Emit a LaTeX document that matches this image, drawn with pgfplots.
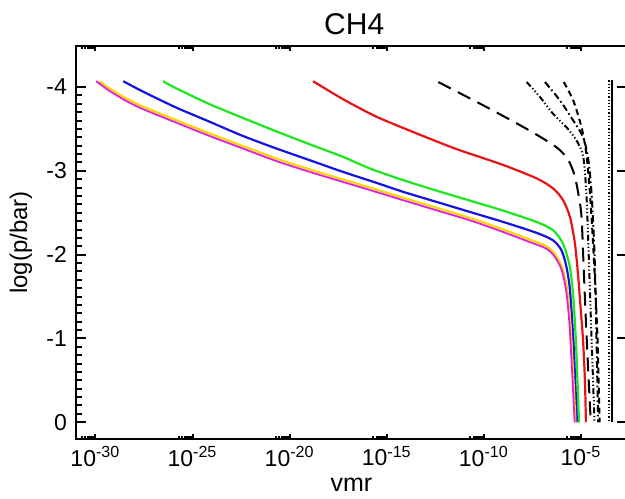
\documentclass[border=0pt]{standalone}
\usepackage{fontspec}
\setmainfont{Liberation Sans}
\usepackage{pgfplots}
\pgfplotsset{compat=1.18}

\definecolor{idlred}{RGB}{230,20,20}
\definecolor{idlgreen}{RGB}{30,230,30}
\definecolor{idlblue}{RGB}{20,20,225}
\definecolor{idlyellow}{RGB}{250,215,0}
\definecolor{idlmagenta}{RGB}{230,30,220}

\pgfplotsset{
  chbase/.style={
    scale only axis, width=275.5pt, height=196.5pt,
    xmin=1e-31, xmax=2.34e-3,
    ymin=-4.49, ymax=0.2, y dir=reverse,
    axis line style={line width=1.25pt},
    every tick/.style={line width=1pt, black},
    tick align=inside,
    tick label style={font=\fontsize{11.5}{13}\selectfont},
  },
  prof/.style={smooth, tension=0.45, line width=1.1pt},
}

\begin{document}
\begin{tikzpicture}
% main axis: curves and x ticks
\begin{axis}[xmode=log, chbase, name=ax,
  xtick={1e-30,1e-25,1e-20,1e-15,1e-10,1e-5},
  xticklabels={10\textsuperscript{-30},10\textsuperscript{-25},10\textsuperscript{-20},
    10\textsuperscript{-15},10\textsuperscript{-10},10\textsuperscript{-5}},
  minor xtick={2e-31,3e-31,4e-31,5e-31,6e-31,7e-31,8e-31,9e-31,
    2e-26,3e-26,4e-26,5e-26,6e-26,7e-26,8e-26,9e-26,
    2e-21,3e-21,4e-21,5e-21,6e-21,7e-21,8e-21,9e-21,
    2e-16,3e-16,4e-16,5e-16,6e-16,7e-16,8e-16,9e-16,
    2e-11,3e-11,4e-11,5e-11,6e-11,7e-11,8e-11,9e-11,
    2e-6,3e-6,4e-6,5e-6,6e-6,7e-6,8e-6,9e-6},
  major tick length=2.7pt, minor tick length=1.5pt,
  ytick=\empty,
  title={CH4}, xlabel={vmr}, ylabel={log(p/bar)},
  every axis title/.style={at={(axis description cs:0.505,1)}, anchor=center, yshift=10.75pt,
    font=\fontsize{15}{17}\selectfont},
  every axis x label/.style={at={(axis description cs:0.5,0)}, anchor=center, yshift=-23pt,
    font=\fontsize{12.5}{14}\selectfont},
  every axis y label/.style={at={(axis description cs:0,0.5)}, xshift=-27.5pt, rotate=90, anchor=center,
    font=\fontsize{12}{14}\selectfont},
]
% black reference profiles
\addplot[black, prof, line width=1pt, dash pattern=on 7pt off 4pt] coordinates {
  (4.5e-13,-4.06) (1.4e-10,-3.76) (2.3e-8,-3.48) (5.6e-7,-3.28) (2.2e-6,-3.13)
  (4.9e-6,-2.93) (8.9e-6,-2.61) (1.1e-5,-2.4) (1.4e-5,-1.8) (1.8e-5,-1.2)
  (2.5e-5,-0.5) (3.2e-5,0)};
\addplot[black, prof, line width=1pt, dash pattern=on 3pt off 1.2pt on 0.6pt off 1.2pt on 0.6pt off 1.2pt on 0.6pt off 1.2pt] coordinates {
  (1.6e-8,-4.06) (7.8e-8,-3.88) (3.7e-7,-3.68) (1.8e-6,-3.52) (6.0e-6,-3.36)
  (1.3e-5,-3.17) (1.9e-5,-2.73) (2.5e-5,-2.0) (3.5e-5,-1.0) (5.0e-5,0)};
\addplot[black, prof, line width=1pt, dash pattern=on 3.5pt off 1.5pt on 0.8pt off 1.5pt] coordinates {
  (1.4e-7,-4.06) (8.3e-7,-3.84) (4.0e-6,-3.6) (1.3e-5,-3.40) (2.4e-5,-3.13)
  (3.5e-5,-2.73) (5.0e-5,-2.0) (6.3e-5,-1.0) (7.6e-5,0)};
\addplot[black, prof, line width=1pt, dash pattern=on 3pt off 2pt] coordinates {
  (1.3e-6,-4.06) (4.0e-6,-3.84) (1.07e-5,-3.52) (1.9e-5,-3.2) (2.9e-5,-2.73)
  (4.5e-5,-2.0) (7.1e-5,-1.0) (9.1e-5,0)};
\addplot[black, line width=1pt, dash pattern=on 0.6pt off 1pt] coordinates {
  (2.8e-4,-4.08) (2.8e-4,0)};
\addplot[black, line width=1pt] coordinates {
  (4.0e-4,-4.08) (4.0e-4,0)};
% model profiles
\addplot[idlred, prof] coordinates {
  (1.6e-19,-4.07) (5.2e-18,-3.86) (2.7e-16,-3.65) (3.2e-14,-3.45) (3.9e-12,-3.26)
  (1e-9,-3.07) (5.2e-8,-2.91) (3.7e-7,-2.79) (1.2e-6,-2.65)
  (2.7e-6,-2.45) (4.9e-6,-2.13) (7.2e-6,-1.74) (8.9e-6,-1.46) (1.26e-5,-1.0)
  (1.6e-5,-0.5) (1.8e-5,0)};
\addplot[idlgreen, prof] coordinates {
  (3.0e-27,-4.07) (1.3e-26,-3.99) (6.9e-25,-3.80) (3.6e-23,-3.635) (1.9e-21,-3.475)
  (1e-19,-3.32) (5.2e-18,-3.17) (1.3e-16,-3.03) (6.9e-15,-2.89) (3.6e-13,-2.765)
  (1.9e-11,-2.645) (1e-9,-2.525) (5.2e-8,-2.39) (3.7e-7,-2.29) (1.2e-6,-2.13)
  (2.7e-6,-1.85) (4.0e-6,-1.50) (5.4e-6,-1.0) (6.6e-6,-0.5) (7.9e-6,0)};
\addplot[idlblue, prof] coordinates {
  (2.7e-29,-4.07) (2.6e-28,-3.95) (1.3e-26,-3.76) (6.9e-25,-3.59) (3.6e-23,-3.42)
  (1.9e-21,-3.27) (1e-19,-3.13) (5.2e-18,-2.99) (2.7e-16,-2.86) (6.9e-15,-2.75)
  (3.6e-13,-2.63) (1.9e-11,-2.51) (1e-9,-2.39) (5.2e-8,-2.26) (3.7e-7,-2.17)
  (1e-6,-2.05) (1.8e-6,-1.85) (2.7e-6,-1.58) (4.0e-6,-1.0) (5.0e-6,-0.5) (6.2e-6,0)};
\addplot[idlyellow, prof] coordinates {
  (1.6e-30,-4.07) (4.9e-30,-3.99) (3.5e-29,-3.87) (2.6e-28,-3.77) (1.3e-26,-3.61)
  (6.9e-25,-3.45) (3.6e-23,-3.30) (1.9e-21,-3.15) (1e-19,-3.02) (5.2e-18,-2.90)
  (2.7e-16,-2.78) (6.9e-15,-2.68) (3.6e-13,-2.56) (1.9e-11,-2.44) (1e-9,-2.30)
  (2.3e-8,-2.18) (1.7e-7,-2.10) (4.8e-7,-2.0) (1.1e-6,-1.84) (1.9e-6,-1.6)
  (2.8e-6,-1.2) (3.9e-6,-0.6) (5.2e-6,0)};
\addplot[idlmagenta, prof, line width=0.9pt] coordinates {
  (1.1e-30,-4.07) (4.9e-30,-3.96) (3.5e-29,-3.84) (2.6e-28,-3.74) (1.3e-26,-3.58)
  (6.9e-25,-3.42) (3.6e-23,-3.27) (1.9e-21,-3.12) (1e-19,-2.99) (5.2e-18,-2.87)
  (2.7e-16,-2.75) (6.9e-15,-2.65) (3.6e-13,-2.53) (1.9e-11,-2.41) (1e-9,-2.27)
  (2.3e-8,-2.15) (1.7e-7,-2.07) (4.6e-7,-1.97) (1e-6,-1.82) (1.7e-6,-1.58)
  (2.5e-6,-1.2) (3.5e-6,-0.6) (4.7e-6,0)};
\end{axis}
% left y ticks: majors and minors, no labels
\begin{axis}[xmode=log, chbase,
  xtick=\empty, ytick pos=left,
  ytick={-4,-3,-2,-1,0}, yticklabels=\empty,
  minor y tick num=9,
  major tick length=5pt, minor tick length=2.8pt,
]
\end{axis}
% right y ticks (majors only), labels on the left
\begin{axis}[xmode=log, chbase,
  xtick=\empty, ytick pos=right, yticklabel pos=left,
  ytick={-4,-3,-2,-1,0}, yticklabels={-4,-3,-2,-1,0},
  major tick length=5pt,
  yticklabel style={xshift=-1pt},
]
\end{axis}
\pgfresetboundingbox
\path[use as bounding box] ([xshift=-38pt,yshift=-29.5pt]ax.south west)
  rectangle ([xshift=-1pt,yshift=23pt]ax.north east);
\end{tikzpicture}
\end{document}
